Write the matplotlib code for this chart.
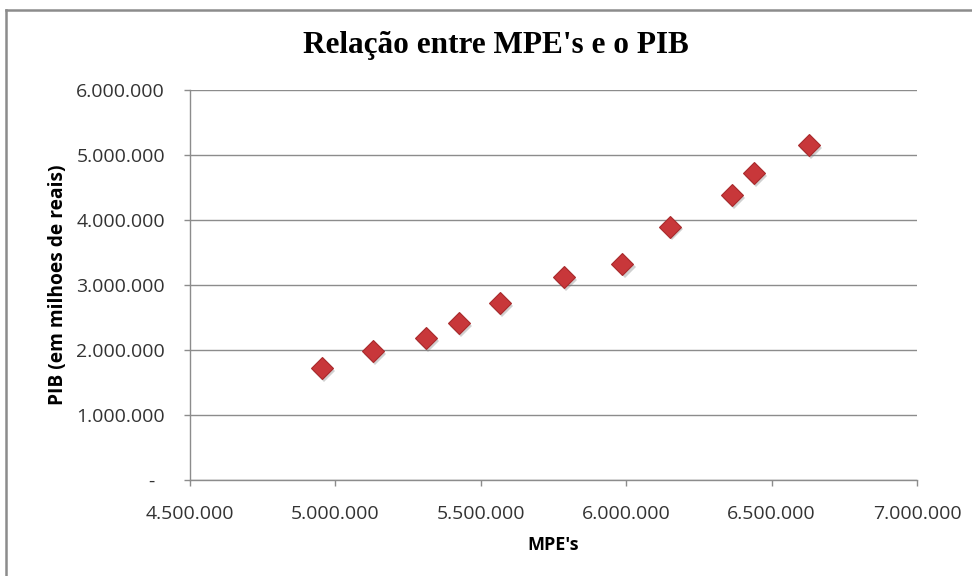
import matplotlib.pyplot as plt
import matplotlib.transforms as mtransforms
from matplotlib.lines import Line2D

# dados
mpe = [4954000, 5128000, 5312000, 5425000, 5567000, 5787000,
       5987000, 6151000, 6363000, 6440000, 6630000]
pib = [1724000, 1978000, 2184000, 2415000, 2722000, 3121000,
       3326000, 3899000, 4386000, 4719000, 5154000]

x_ticks = [4500000, 5000000, 5500000, 6000000, 6500000, 7000000]
y_ticks = [0, 1000000, 2000000, 3000000, 4000000, 5000000, 6000000]


def fmt(v):
    if v == 0:
        return '-  '
    return '{:,}'.format(int(v)).replace(',', '.')


fig = plt.figure(figsize=(9.72, 5.76), dpi=100)
ax = fig.add_axes([190 / 972, 1 - 480 / 576, 727 / 972, 390 / 576])

# moldura externa do grafico
fig.add_artist(Line2D([6 / 972, 6 / 972], [0, 1 - 10 / 576], color='#8c8c8c', lw=1.8,
                      transform=fig.transFigure))
fig.add_artist(Line2D([6 / 972, 1], [1 - 10 / 576, 1 - 10 / 576], color='#8c8c8c', lw=1.8,
                      transform=fig.transFigure))

# sombra dos marcadores
shadow = mtransforms.offset_copy(ax.transData, fig=fig, x=1.5, y=-2.0, units='points')
ax.plot(mpe, pib, linestyle='none', marker='D', ms=11.5, color='#7a7a7a', alpha=0.35,
        markeredgewidth=0, transform=shadow, zorder=3)
ax.plot(mpe, pib, linestyle='none', marker='D', ms=11.5, markerfacecolor='#c8373a',
        markeredgecolor='#a82a2c', markeredgewidth=0.8, zorder=4)

ax.set_xlim(4500000, 7000000)
ax.set_ylim(0, 6000000)
ax.set_xticks(x_ticks)
ax.set_yticks(y_ticks)
ax.set_xticklabels([fmt(v) for v in x_ticks])
ax.set_yticklabels([fmt(v) for v in y_ticks])

tick_font = 'Open Sans'
for lab in ax.get_xticklabels() + ax.get_yticklabels():
    lab.set_family(tick_font)
    lab.set_fontsize(14)
    lab.set_color('#333333')

ax.grid(axis='y', color='#8c8c8c', lw=1.0)
ax.set_axisbelow(True)
for s in ['top', 'right']:
    ax.spines[s].set_visible(False)
for s in ['left', 'bottom']:
    ax.spines[s].set_color('#8c8c8c')
    ax.spines[s].set_linewidth(1.0)
ax.tick_params(axis='both', color='#8c8c8c', length=4, width=1.0)
ax.tick_params(axis='y', pad=14)
ax.tick_params(axis='x', pad=14)

ax.set_xlabel("MPE's", family='Open Sans', fontweight='bold', fontsize=13, labelpad=9)
ax.set_ylabel('PIB (em milhoes de reais)', family='Open Sans', fontweight='bold',
              fontsize=13.8, labelpad=6)

fig.text(496 / 972, 1 - 45 / 576, "Relação entre MPE's e o PIB", family='Liberation Serif',
         fontweight='bold', fontsize=22.5, ha='center', va='center')

fig.savefig('out.png', dpi=100)
